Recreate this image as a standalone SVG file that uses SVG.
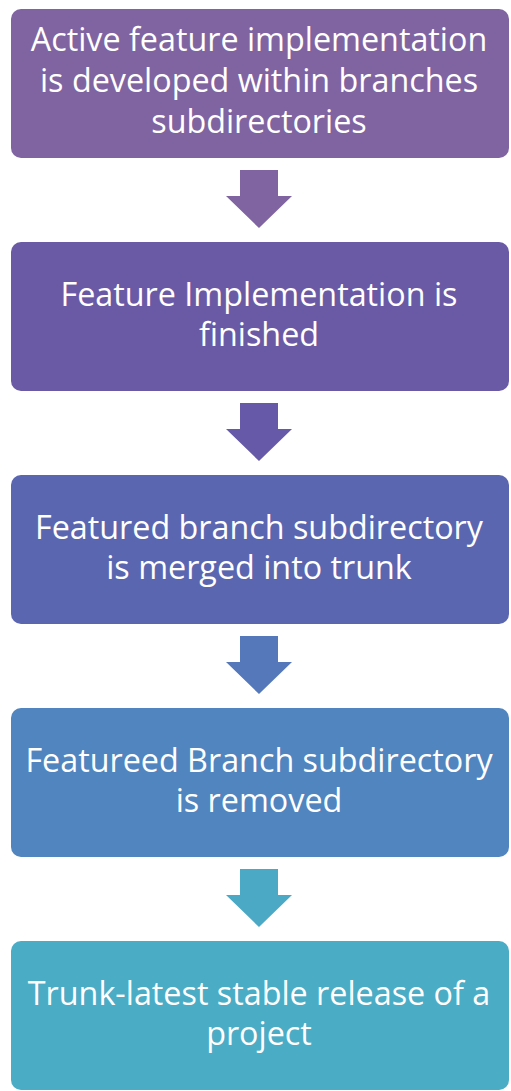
<svg xmlns="http://www.w3.org/2000/svg" width="511" height="1091" viewBox="0 0 511 1091">
<style>
.box{stroke:none}
.t{font-family:"Open Sans",Lato,sans-serif;font-size:32.3px;fill:#ffffff;text-anchor:middle}
</style>
<rect width="511" height="1091" fill="#ffffff"/>
<g id="connectors">
<polygon points="240,170 278,170 278,196 292,196 259,228 226,196 240,196" fill="#8064A2"/>
<polygon points="240,403 278,403 278,429 292,429 259,461 226,429 240,429" fill="#6659A8"/>
<polygon points="240,636 278,636 278,662 292,662 259,694 226,662 240,662" fill="#5478BA"/>
<polygon points="240,869 278,869 278,895 292,895 259,927 226,895 240,895" fill="#4BA9C6"/>
</g>
<g id="node1"><rect class="box" x="11" y="9" width="498" height="149" rx="10" fill="#8064A2"/>
<text class="t" x="259" y="51">Active feature implementation</text>
<text class="t" x="259" y="92">is developed within branches</text>
<text class="t" x="259" y="133">subdirectories</text></g>
<g id="node2"><rect class="box" x="11" y="242" width="498" height="149" rx="10" fill="#6A5AA6"/>
<text class="t" x="259" y="306">Feature Implementation is</text>
<text class="t" x="259" y="346">finished</text></g>
<g id="node3"><rect class="box" x="11" y="475" width="498" height="149" rx="10" fill="#5A66B0"/>
<text class="t" x="259" y="539">Featured branch subdirectory</text>
<text class="t" x="259" y="579">is merged into trunk</text></g>
<g id="node4"><rect class="box" x="11" y="708" width="498" height="149" rx="10" fill="#5085BF"/>
<text class="t" x="259" y="772">Featureed Branch subdirectory</text>
<text class="t" x="259" y="812">is removed</text></g>
<g id="node5"><rect class="box" x="11" y="941" width="498" height="149" rx="10" fill="#4BACC6"/>
<text class="t" x="259" y="1005">Trunk-latest stable release of a</text>
<text class="t" x="259" y="1045">project</text></g>
</svg>
